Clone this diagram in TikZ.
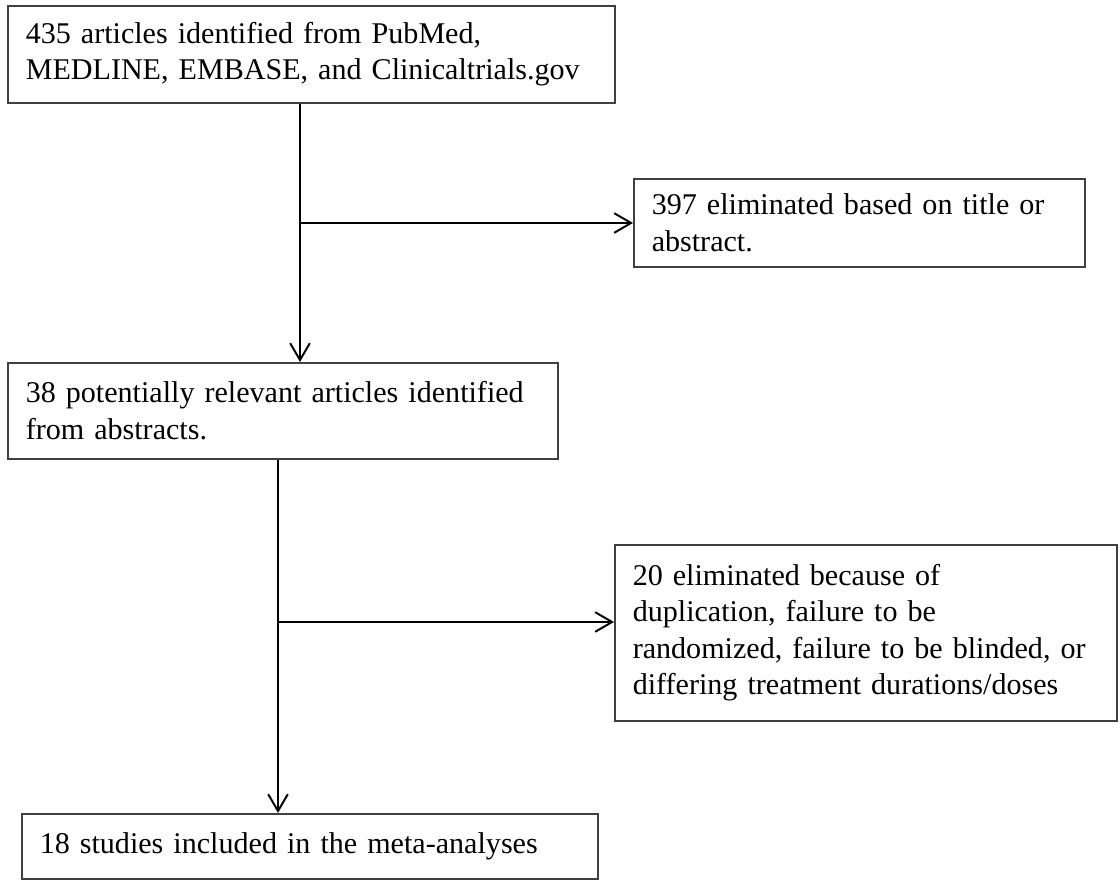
\documentclass[tikz,border=0pt]{standalone}
\usepackage{fontspec}
\setmainfont{Liberation Serif}
\usetikzlibrary{arrows.meta}

\tikzset{
    stagebox/.style={draw=black!75, line width=1.1pt, anchor=north west, align=left, inner xsep=0.45cm, inner ysep=0pt, font=\fontsize{21.4pt}{26pt}\selectfont},
    flowline/.style={line width=1.8pt, -{Straight Barb[length=12pt, width=14pt, line width=1.4pt]}},
}

\begin{document}
\begin{tikzpicture}
        \useasboundingbox (0,0) rectangle (28,22);

        \node[stagebox, text width=14.275cm, minimum height=2.425cm] (search) at (0.175,21.875) {435 articles identified from PubMed,\\MEDLINE, EMBASE, and Clinicaltrials.gov};
        \node[stagebox, text width=10.375cm, minimum height=2.2cm] (excluded1) at (15.825,17.55) {397 eliminated based on title or\\abstract.};
        \node[stagebox, text width=12.85cm, minimum height=2.4cm] (relevant) at (0.175,12.95) {38 potentially relevant articles identified\\from abstracts.};
        \node[stagebox, text width=11.65cm, minimum height=4.4cm] (excluded2) at (15.35,8.4) {20 eliminated because of\\duplication, failure to be\\randomized, failure to be blinded, or\\differing treatment durations/doses};
        \node[stagebox, text width=13.5cm, minimum height=1.625cm] (included) at (0.525,1.675) {18 studies included in the meta-analyses};

        \coordinate (split1) at (7.5,16.425);
        \coordinate (split2) at (6.95,6.45);

        \draw[flowline] (search.south -| split1) -- (relevant.north -| split1);
        \draw[flowline] (split1) -- (split1 -| excluded1.west);

        \draw[flowline] (relevant.south -| split2) -- (included.north -| split2);
        \draw[flowline] (split2) -- (split2 -| excluded2.west);

\end{tikzpicture}
\end{document}
